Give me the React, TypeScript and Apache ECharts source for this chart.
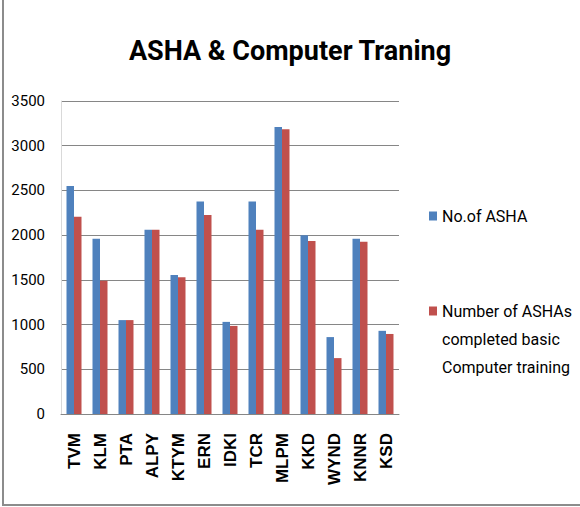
import React, { useEffect, useRef } from "react";
import * as echarts from "echarts";

const categories = ["TVM", "KLM", "PTA", "ALPY", "KTYM", "ERN", "IDKI", "TCR", "MLPM", "KKD", "WYND", "KNNR", "KSD"];
const noOfAsha = [2550, 1960, 1050, 2060, 1555, 2375, 1030, 2375, 3210, 2000, 860, 1960, 930];
const completedTraining = [2205, 1490, 1050, 2060, 1530, 2225, 985, 2060, 3185, 1935, 625, 1925, 895];
const seriesNames = ["No.of ASHA", "Number of ASHAs\ncompleted basic\nComputer training"];
const titleText = "ASHA & Computer Traning";

export default function App() {
  const ref = useRef<HTMLDivElement>(null);
  useEffect(() => {
    if (!ref.current) return;
    const chart = echarts.init(ref.current, null, { renderer: "svg" });
    const narrow = "Roboto, 'Liberation Sans', sans-serif";
    chart.setOption({
      animation: false,
      backgroundColor: "#ffffff",
      title: {
        text: titleText,
        left: "center",
        top: 32,
        textStyle: { fontFamily: narrow, fontWeight: "bold", fontSize: 27, color: "#000" },
      },
      legend: [
        {
          data: [seriesNames[0]],
          orient: "vertical",
          left: 424,
          top: 203,
          itemWidth: 8,
          itemHeight: 9,
          icon: "rect",
          textStyle: { fontFamily: narrow, fontSize: 16, color: "#000" },
        },
        {
          data: [seriesNames[1]],
          orient: "vertical",
          left: 424,
          top: 236,
          itemWidth: 8,
          itemHeight: 9,
          icon: "rect",
          formatter: (name: string) => "\n\n" + name,
          textStyle: {
            fontFamily: narrow,
            fontSize: 16,
            color: "#000",
            lineHeight: 28,
          },
        },
      ],
      grid: { left: 61, top: 101, right: 181, bottom: 93 },
      xAxis: {
        type: "category",
        data: categories,
        axisLine: { lineStyle: { color: "#868686", width: 1 } },
        axisTick: { show: false },
        axisLabel: {
          rotate: 90,
          margin: 19,
          fontFamily: "'Liberation Sans', Arial, sans-serif",
          fontWeight: "bold",
          fontSize: 17,
          color: "#000",
        },
      },
      yAxis: {
        type: "value",
        min: 0,
        max: 3500,
        interval: 500,
        axisLine: { show: true, lineStyle: { color: "#d9d9d9" } },
        axisTick: { show: false },
        splitLine: { lineStyle: { color: "#868686", width: 1 } },
        axisLabel: {
          margin: 16,
          fontFamily: narrow,
          fontSize: 15,
          color: "#000",
          formatter: (v: number) => String(v),
        },
      },
      series: [
        {
          name: seriesNames[0],
          type: "bar",
          data: noOfAsha,
          barWidth: 7.5,
          barGap: "0%",
          itemStyle: { color: "#4F81BD" },
        },
        {
          name: seriesNames[1],
          type: "bar",
          data: completedTraining,
          barWidth: 7.5,
          barGap: "0%",
          itemStyle: { color: "#C0504D" },
        },
      ],
      graphic: [
        { type: "line", shape: { x1: 3, y1: 0, x2: 3, y2: 505 }, style: { stroke: "#8c8c8c", lineWidth: 2 } },
        { type: "line", shape: { x1: 2, y1: 505, x2: 580, y2: 505 }, style: { stroke: "#8c8c8c", lineWidth: 2 } },
      ],
    });
    return () => chart.dispose();
  }, []);
  return <div ref={ref} style={{ position: "absolute", left: 0, top: 0, width: 580, height: 507 }} />;
}
